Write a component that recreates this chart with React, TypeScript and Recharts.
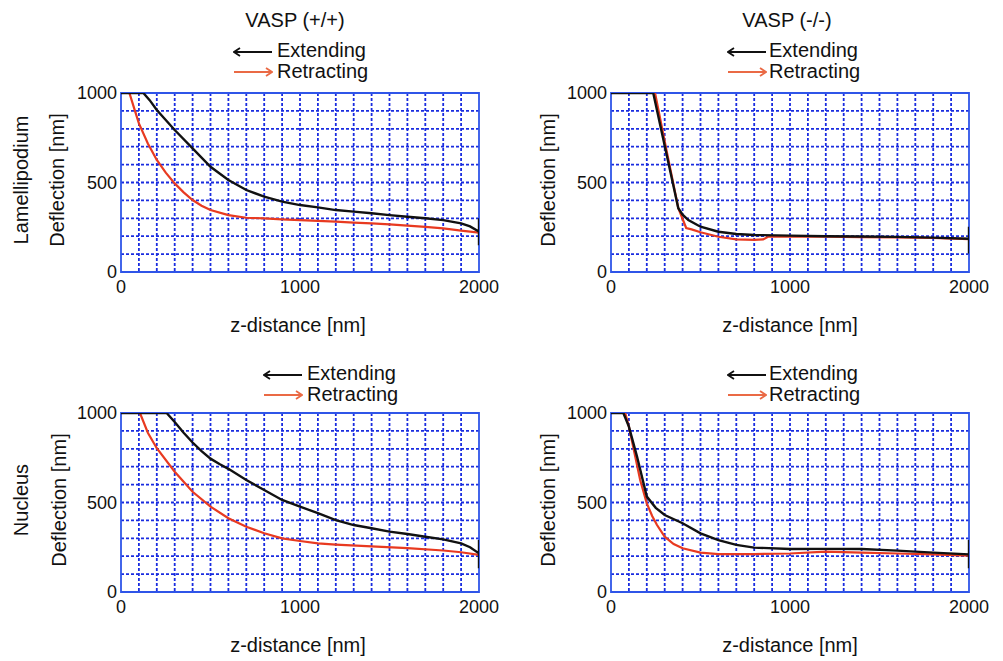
import { CartesianGrid, Line, LineChart, ReferenceArea, XAxis, YAxis } from "recharts";

const FONT = '"Liberation Sans", Arial, Helvetica, sans-serif';
const GRID_BLUE = "#1a2ce0";
const BORDER_BLUE = "#2f55e8";
const EXT_COLOR = "#111111";
const RET_COLOR = "#e83a20";
const ARROW_RED = "#ea6a45";

const X_TICKS = [0, 1000, 2000];
const Y_TICKS = [0, 500, 1000];
const X_GRID = [100, 200, 300, 400, 500, 600, 700, 800, 900, 1000, 1100, 1200, 1300, 1400, 1500, 1600, 1700, 1800, 1900];
const Y_GRID = [100, 200, 300, 400, 500, 600, 700, 800, 900];

const COLUMN_TITLES = ["VASP (+/+)", "VASP (-/-)"];
const ROW_TITLES = ["Lamellipodium", "Nucleus"];
const SERIES_NAMES = ["Extending", "Retracting"];
const X_LABEL = "z-distance [nm]";
const Y_LABEL = "Deflection [nm]";

type Pt = { x: number; y: number };
const pts = (rows: number[][]): Pt[] => rows.map(([x, y]) => ({ x, y }));

// z-distance [nm], deflection [nm]
const lamPlusExt = pts([
  [0, 1000], [125, 1000], [160, 960], [200, 905], [300, 793], [400, 691], [500, 588], [600, 514], [700, 458],
  [800, 421], [900, 393], [1000, 374], [1100, 361], [1200, 346], [1300, 337], [1400, 328], [1500, 318],
  [1600, 309], [1700, 300], [1800, 290], [1900, 272], [1950, 255], [2000, 225], [2000, 300], [2000, 150],
]);
const lamPlusRet = pts([
  [47, 1000], [75, 910], [100, 830], [150, 718], [200, 626], [250, 555], [300, 495], [350, 445], [400, 402], [450, 370], [500, 346],
  [600, 318], [700, 303], [800, 300], [900, 294], [1000, 290], [1100, 286], [1200, 281], [1300, 276],
  [1400, 272], [1500, 266], [1600, 259], [1700, 252], [1800, 244], [1900, 231], [2000, 220],
]);

const lamMinusExt = pts([
  [0, 1000], [236, 1000], [300, 705], [376, 356], [400, 320], [432, 290], [500, 253], [600, 225],
  [700, 212], [800, 207], [1000, 203], [1200, 200], [1400, 198], [1600, 196], [1800, 192], [2000, 186],
  [2000, 253], [2000, 104],
]);
const lamMinusRet = pts([
  [246, 1000], [310, 680], [376, 356], [420, 246], [450, 238], [500, 222], [600, 197], [700, 182],
  [800, 179], [850, 182], [880, 198], [1000, 197], [1200, 197], [1400, 195], [1600, 193], [1800, 190],
  [2000, 184],
]);

const nucPlusExt = pts([
  [0, 1000], [255, 1000], [300, 950], [350, 890], [400, 835], [450, 787], [500, 745], [550, 715], [600, 688],
  [700, 626], [800, 570], [900, 514], [1000, 477], [1100, 440], [1200, 402], [1300, 374], [1400, 356],
  [1500, 337], [1600, 324], [1700, 309], [1800, 294], [1900, 272], [1950, 250], [2000, 216], [2000, 290], [2000, 132],
]);
const nucPlusRet = pts([
  [106, 1000], [150, 890], [200, 803], [300, 672], [400, 560], [500, 477], [600, 412], [700, 365],
  [800, 328], [900, 300], [1000, 285], [1100, 272], [1200, 265], [1400, 255], [1600, 245], [1800, 232],
  [1900, 222], [2000, 207],
]);

const nucMinusExt = pts([
  [0, 1000], [69, 1000], [100, 924], [145, 758], [200, 533], [250, 470], [300, 430], [400, 384],
  [500, 328], [600, 290], [700, 263], [800, 248], [1000, 240], [1200, 241], [1400, 240], [1600, 231],
  [1800, 220], [2000, 210], [2000, 290], [2000, 132],
]);
const nucMinusRet = pts([
  [79, 1000], [100, 924], [163, 626], [200, 495], [230, 425], [257, 374], [300, 309], [350, 268], [400, 244], [500, 220],
  [600, 212], [800, 212], [1000, 215], [1200, 225], [1400, 220], [1600, 215], [1800, 210], [2000, 203],
]);

const tickStyle = { fill: "#111", fontSize: 18, fontFamily: FONT };

function Text({ x, y, text, rotate = false, anchor = "center" }: { x: number; y: number; text: string; rotate?: boolean; anchor?: "center" | "left" }) {
  const tx = anchor === "left" ? "0" : "-50%";
  return (
    <div
      style={{
        position: "absolute",
        left: x,
        top: y,
        transform: `translate(${tx}, -50%)${rotate ? " rotate(-90deg)" : ""}`,
        whiteSpace: "nowrap",
        lineHeight: 1,
        fontSize: 20,
        fontFamily: FONT,
        color: "#111",
      }}
    >
      {text}
    </div>
  );
}

function Arrow({ x, y, color, dir }: { x: number; y: number; color: string; dir: "left" | "right" }) {
  const head = dir === "left" ? "7,1 1,5 7,9" : "33,1 39,5 33,9";
  return (
    <svg width={40} height={10} style={{ position: "absolute", left: x, top: y - 5 }}>
      <line x1={1} y1={5} x2={39} y2={5} stroke={color} strokeWidth={1.8} />
      <polyline points={head} fill="none" stroke={color} strokeWidth={1.8} />
    </svg>
  );
}

function Legend({ arrowX, textX, y }: { arrowX: number; textX: number; y: number }) {
  return (
    <>
      <Arrow x={arrowX} y={y + 2} color={EXT_COLOR} dir="left" />
      <Text x={textX} y={y} text={SERIES_NAMES[0]} anchor="left" />
      <Arrow x={arrowX} y={y + 22} color={ARROW_RED} dir="right" />
      <Text x={textX} y={y + 21} text={SERIES_NAMES[1]} anchor="left" />
    </>
  );
}

function Panel({ left, top, ext, ret }: { left: number; top: number; ext: Pt[]; ret: Pt[] }) {
  return (
    <div style={{ position: "absolute", left: left - 120, top: top - 20 }}>
      <LineChart width={518} height={280} margin={{ top: 20, right: 40, bottom: 21, left: 0 }}>
        <CartesianGrid
          stroke={GRID_BLUE}
          strokeDasharray="3 2"
          strokeWidth={1.8}
          horizontalValues={Y_GRID}
          verticalValues={X_GRID}
        />
        <XAxis
          type="number"
          dataKey="x"
          domain={[0, 2000]}
          ticks={X_TICKS}
          interval={0}
          height={60}
          tickLine={false}
          axisLine={false}
          tick={tickStyle}
          allowDataOverflow
        />
        <YAxis
          type="number"
          dataKey="y"
          domain={[0, 1000]}
          ticks={Y_TICKS}
          interval={0}
          width={120}
          tickLine={false}
          axisLine={false}
          tickSize={2}
          tick={tickStyle}
          allowDataOverflow
        />
        <ReferenceArea x1={0} x2={2000} y1={0} y2={1000} fill="none" stroke={BORDER_BLUE} strokeWidth={1.8} ifOverflow="visible" />
        <Line data={ret} dataKey="y" type="linear" stroke={RET_COLOR} strokeWidth={2.2} dot={false} activeDot={false} isAnimationActive={false} />
        <Line data={ext} dataKey="y" type="linear" stroke={EXT_COLOR} strokeWidth={2.4} dot={false} activeDot={false} isAnimationActive={false} />
      </LineChart>
    </div>
  );
}

export default function App() {
  return (
    <div style={{ position: "absolute", left: 0, top: 0, width: 1003, height: 661, background: "#fff", overflow: "hidden" }}>
      <Text x={295} y={20} text={COLUMN_TITLES[0]} />
      <Text x={787} y={20} text={COLUMN_TITLES[1]} />

      <Legend arrowX={233} textX={277} y={50} />
      <Legend arrowX={727} textX={769} y={50} />
      <Legend arrowX={263} textX={307} y={373} />
      <Legend arrowX={727} textX={769} y={373} />

      <Panel left={121} top={93} ext={lamPlusExt} ret={lamPlusRet} />
      <Panel left={611} top={93} ext={lamMinusExt} ret={lamMinusRet} />
      <Panel left={121} top={413} ext={nucPlusExt} ret={nucPlusRet} />
      <Panel left={611} top={413} ext={nucMinusExt} ret={nucMinusRet} />

      <Text x={21} y={180} text={ROW_TITLES[0]} rotate />
      <Text x={21} y={500} text={ROW_TITLES[1]} rotate />
      <Text x={57} y={180} text={Y_LABEL} rotate />
      <Text x={548} y={180} text={Y_LABEL} rotate />
      <Text x={59} y={500} text={Y_LABEL} rotate />
      <Text x={548} y={500} text={Y_LABEL} rotate />

      <Text x={298} y={325} text={X_LABEL} />
      <Text x={790} y={325} text={X_LABEL} />
      <Text x={298} y={645} text={X_LABEL} />
      <Text x={790} y={645} text={X_LABEL} />
    </div>
  );
}
